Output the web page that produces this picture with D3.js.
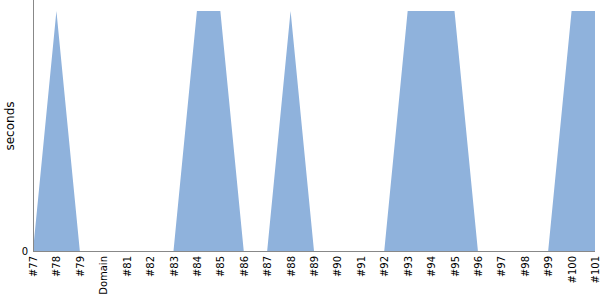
<!DOCTYPE html>
<html>
<head>
<meta charset="utf-8">
<script src="https://cdn.jsdelivr.net/npm/d3@7"></script>
<style>
  body { margin: 0; background: white; }
  #chart { width: 600px; height: 300px; }
  text { font-family: "DejaVu Sans", sans-serif; }
</style>
</head>
<body>
<div id="chart"></div>
<script>
// Chart data
const builds = ["#77", "#78", "#79", "Domain", "#81", "#82", "#83", "#84", "#85", "#86",
    "#87", "#88", "#89", "#90", "#91", "#92", "#93", "#94", "#95", "#96",
    "#97", "#98", "#99", "#100", "#101"];
const seconds = [0, 1, 0, 0, 0, 0, 0, 1, 1, 0,
    0, 1, 0, 0, 0, 0, 1, 1, 1, 0,
    0, 0, 0, 1, 1];
const yTicks = [0];

const margin = {top: 11, right: 5, bottom: 49, left: 33};
const width = 600 - margin.left - margin.right;
const height = 300 - margin.top - margin.bottom;

const svg = d3.select("#chart").append("svg")
    .attr("width", 600)
    .attr("height", 300)
  .append("g")
    .attr("transform", `translate(${margin.left},${margin.top})`);

const x = d3.scalePoint()
    .domain(builds)
    .range([0, width]);

const y = d3.scaleLinear()
    .domain([0, 1])
    .range([height, 0]);

const data = builds.map((b, i) => ({build: b, value: seconds[i]}));

// Area
svg.append("path")
    .datum(data)
    .attr("fill", "#8fb2dc")
    .attr("d", d3.area()
        .x(d => x(d.build))
        .y0(y(0))
        .y1(d => y(d.value)));

// X axis
const xAxis = svg.append("g")
    .attr("transform", `translate(0,${height})`)
    .call(d3.axisBottom(x).tickSize(0).tickPadding(0));
xAxis.select(".domain").attr("stroke", "#888").attr("d", `M0,0.5H${width}`);
xAxis.selectAll("text")
    .attr("font-size", 10)
    .attr("fill", "#000")
    .style("text-anchor", "end")
    .attr("transform", "rotate(-90)")
    .attr("x", -5)
    .attr("y", 0)
    .attr("dy", "0.35em");

// Y axis
const yAxis = svg.append("g")
    .call(d3.axisLeft(y).tickValues(yTicks).tickFormat(d3.format("d")).tickSize(0).tickPadding(5));
yAxis.select(".domain").attr("stroke", "#888").attr("d", `M0.5,${height}V${-margin.top}`);
yAxis.selectAll("text").attr("font-size", 10).attr("fill", "#000");

// Y label
svg.append("text")
    .attr("transform", "rotate(-90)")
    .attr("x", -height / 2 + 5)
    .attr("y", -19)
    .attr("text-anchor", "middle")
    .attr("font-size", 12)
    .attr("fill", "#000")
    .text("seconds");
</script>
</body>
</html>
